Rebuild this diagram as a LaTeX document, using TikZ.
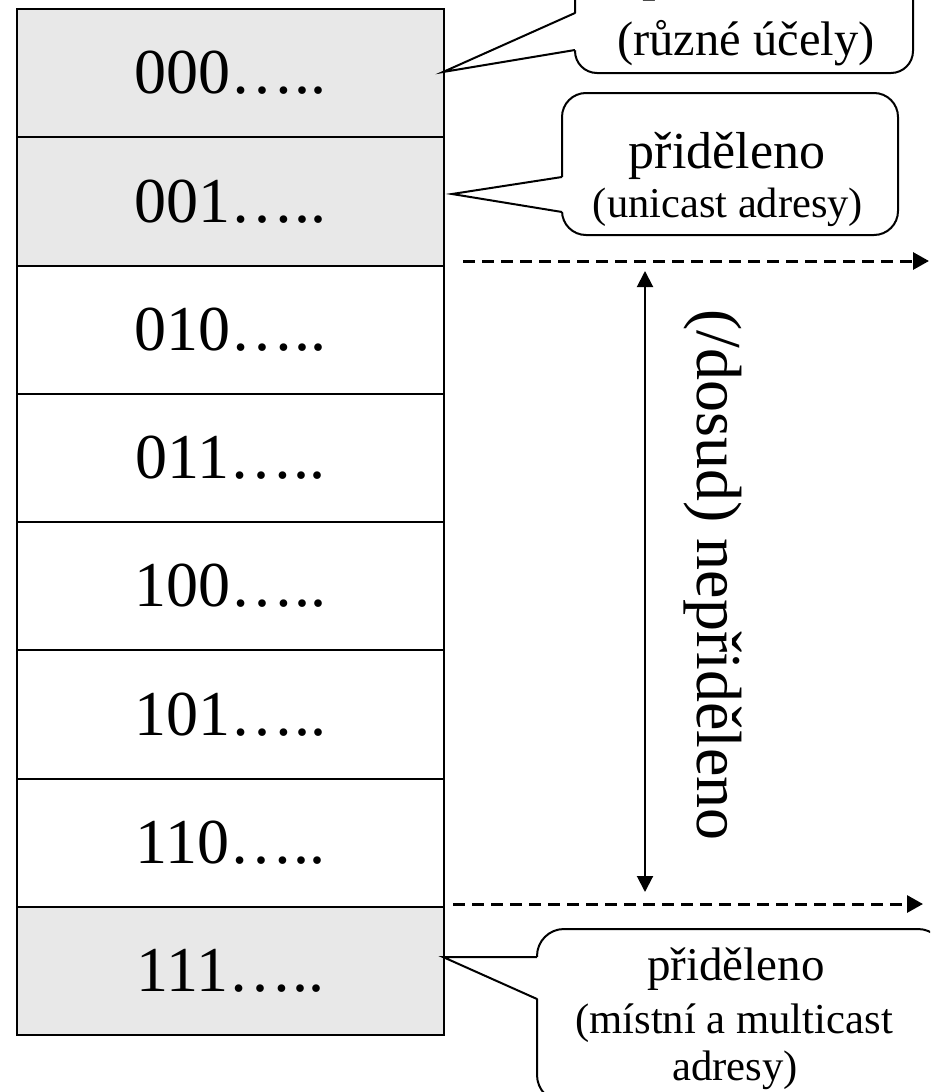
\documentclass[tikz,border=0pt]{standalone}
\usepackage{fontspec}
\setmainfont{Liberation Serif}
\usetikzlibrary{arrows.meta}
\definecolor{cellgrey}{HTML}{E8E8E8}
\begin{document}
\begin{tikzpicture}[x=1pt,y=-1pt,
  cell/.style={draw=black, line width=2pt, minimum width=427pt, minimum height=128.25pt,
    anchor=north west, inner sep=0pt, font=\fontsize{64}{70}\selectfont},
  used/.style={cell, fill=cellgrey},
  free/.style={cell, fill=white},
  bubble/.style={draw=black, line width=2pt, fill=white},
  tail/.style={draw=black, line width=2pt, line join=miter},
  dashline/.style={line width=3pt, dash pattern=on 12pt off 7pt, -{Triangle[length=16pt,width=17pt]}},
  span/.style={line width=2pt, {Triangle[length=16pt,width=16pt]}-{Triangle[length=16pt,width=16pt]}},
  big/.style={font=\fontsize{#1}{#1}\selectfont, anchor=base, inner sep=0pt}
]
\useasboundingbox (0,0) rectangle (930,1092);
\clip (0,0) rectangle (930,1092);

% address prefix table
\node[used] (r0) at (16,8)      {000…..};
\node[used] (r1) at (16,136.25) {001…..};
\node[free] (r2) at (16,264.5)  {010…..};
\node[free] (r3) at (16,392.75) {011…..};
\node[free] (r4) at (16,521)    {100…..};
\node[free] (r5) at (16,649.25) {101…..};
\node[free] (r6) at (16,777.5)  {110…..};
\node[used] (r7) at (16,905.75) {111…..};

% callout for 000
\draw[bubble, rounded corners=22pt] (575,-90) rectangle (913,73);
\coordinate (p0) at (443,72);
\coordinate (a0) at (575,13);
\coordinate (b0) at (575,50);
\fill[white] (p0) -- (577,13) -- (577,50) -- cycle;
\draw[tail] (a0) -- (p0) -- (b0);
\node[big=55] (c0a) at (746,-10) {přiděleno};
\node[big=48.5] (c0b) at (746,55) {(různé účely)};

% callout for 001
\draw[bubble, rounded corners=24pt] (562,93) rectangle (898,235);
\coordinate (p1) at (452,194);
\coordinate (a1) at (562,177);
\coordinate (b1) at (562,212);
\fill[white] (p1) -- (564,177) -- (564,212) -- cycle;
\draw[tail] (a1) -- (p1) -- (b1);
\node[big=52] (c1a) at (727,168) {přiděleno};
\node[big=42.5] (c1b) at (728,217) {(unicast adresy)};

% callout for 111
\draw[bubble, rounded corners=27pt] (537,929) rectangle (945,1102);
\coordinate (p7) at (443,957);
\coordinate (a7) at (537,957);
\coordinate (b7) at (537,999);
\fill[white] (p7) -- (539,957) -- (539,999) -- cycle;
\draw[tail] (a7) -- (p7) -- (b7);
\node[big=47] (c7a) at (736,980) {přiděleno};
\node[big=42.7] (c7b) at (734,1033) {(místní a multicast};
\node[big=42.7] (c7c) at (735,1080) {adresy)};

% range of unassigned prefixes
\coordinate (u1) at (463,261);
\coordinate (u2) at (929,261);
\coordinate (l1) at (453,904);
\coordinate (l2) at (923,904);
\draw[dashline] (u1) -- (u2);
\draw[dashline] (l1) -- (l2);
\coordinate (vt) at (645,271);
\coordinate (vb) at (645,892);
\draw[span] (vt) -- (vb);
\node[rotate=-90, font=\fontsize{64}{70}\selectfont, inner sep=0pt] (free) at (713,575) {(/dosud) nepřiděleno};
\end{tikzpicture}
\end{document}
